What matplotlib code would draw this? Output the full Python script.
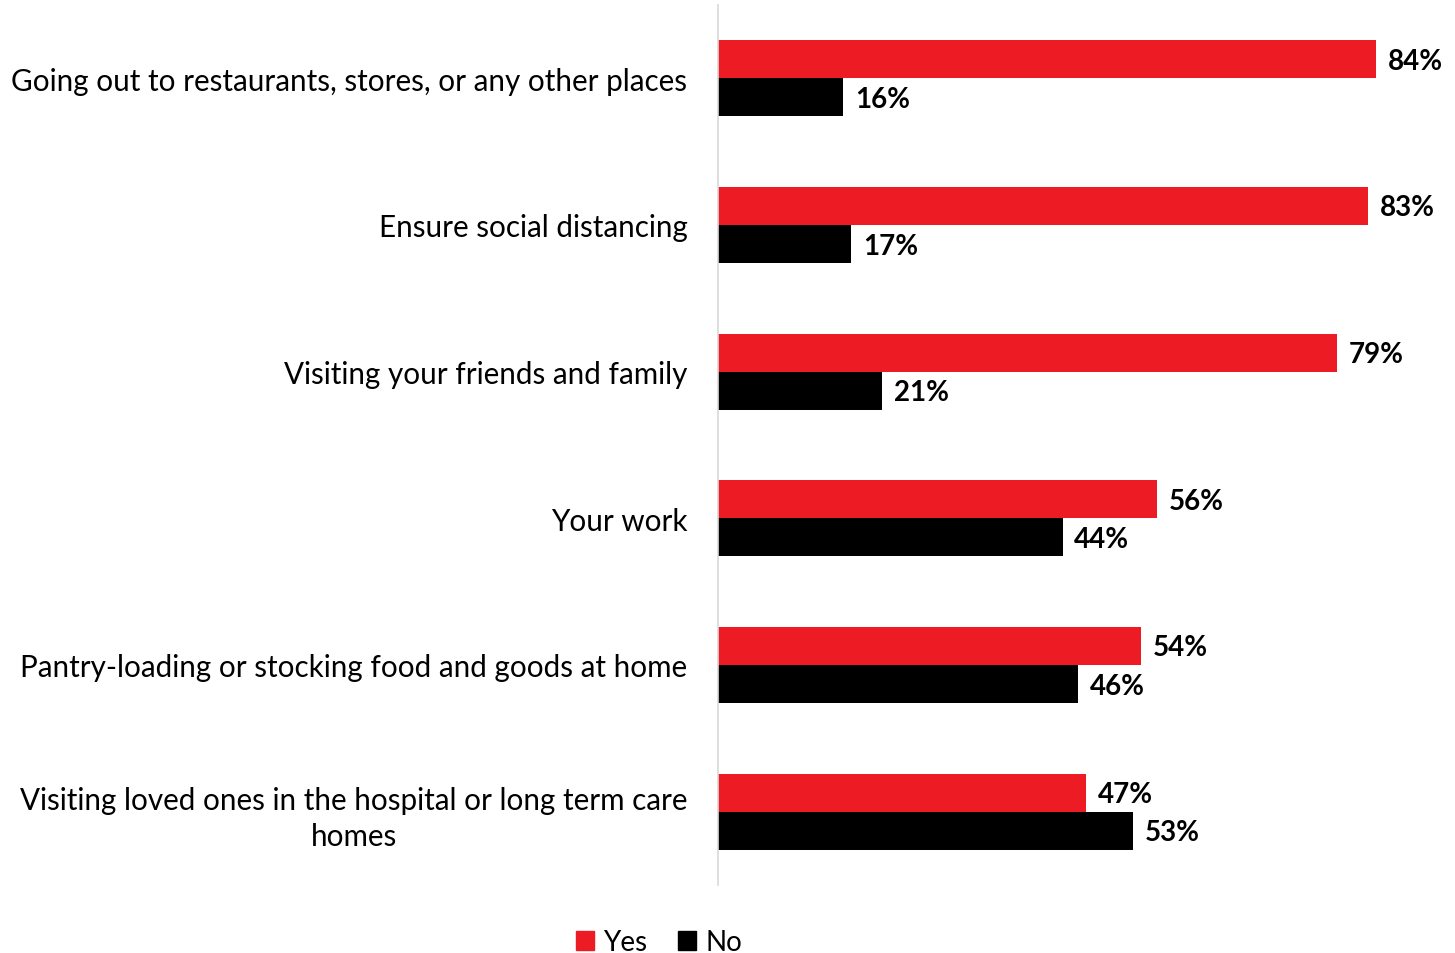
import numpy as np
from matplotlib import pyplot as plt
from matplotlib.patches import Patch

plt.rcParams['font.family'] = ['Lato', 'DejaVu Sans']

categories = ['Going out to restaurants, stores, or any other places',
              'Ensure social distancing',
              'Visiting your friends and family',
              'Your work',
              'Pantry-loading or stocking food and goods at home',
              'Visiting loved ones in the hospital or long term care\nhomes']
yes = [84, 83, 79, 56, 54, 47]
no = [16, 17, 21, 44, 46, 53]

red = '#ED1C24'
black = '#000000'

fig = plt.figure(figsize=(14.55, 9.54), dpi=100)
ax = fig.add_axes([718/1455, 1-886/954, (1455-718)/1455, 880/954])

y = np.arange(len(categories))
h = 0.26
ax.barh(y - h/2, yes, h, color=red)
ax.barh(y + h/2, no, h, color=black)

for i in range(len(categories)):
    ax.text(yes[i] + 1.5, y[i] - h/2 + 0.01, f'{yes[i]}%', va='center', ha='left',
            fontsize=20, fontweight='bold')
    ax.text(no[i] + 1.5, y[i] + h/2 + 0.01, f'{no[i]}%', va='center', ha='left',
            fontsize=20, fontweight='bold')

ax.set_ylim(len(categories) - 0.5, -0.5)
ax.set_xlim(0, 94.1)
ax.set_yticks(y)
ax.set_yticklabels(categories, fontsize=21.3, linespacing=1.35)
ax.tick_params(axis='y', length=0, pad=22)
ax.set_xticks([])
for lab in ax.get_yticklabels():
    lab.set_multialignment('center')

for s in ['top', 'right', 'bottom']:
    ax.spines[s].set_visible(False)
ax.spines['left'].set_color('#D9D9D9')
ax.spines['left'].set_linewidth(1.2)

handles = [Patch(color=red, label='Yes'), Patch(color=black, label='No')]
fig.legend(handles=handles, loc='center', bbox_to_anchor=(659/1455, 1-943/954),
           ncol=2, frameon=False, fontsize=20, handlelength=0.65, handleheight=0.65,
           handletextpad=0.35, columnspacing=1.1)

fig.savefig('out.png', dpi=100)
